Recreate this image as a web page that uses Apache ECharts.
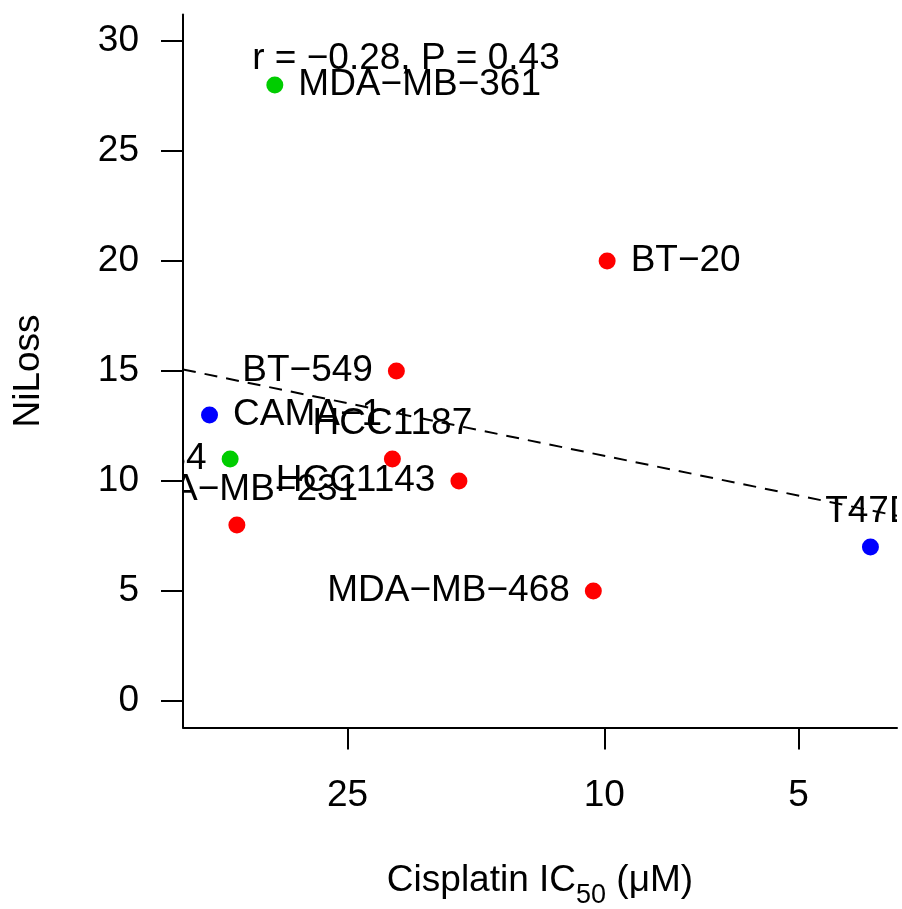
<!DOCTYPE html>
<html><head><meta charset="utf-8">
<script src="https://cdn.jsdelivr.net/npm/echarts@6/dist/echarts.min.js"></script>
<style>html,body{margin:0;padding:0;background:#fff;} #c{width:902px;height:909px;}</style>
</head><body><div id="c"></div>
<script>
// ---- data ----
const cellLines = ['MDA−MB−361','BT−20','BT−549','CAMA−1','MDA−MB−134','HCC1187','HCC1143','MDA−MB−231','MDA−MB−468','T47D'];
const cisplatinIC50 = [32.4, 9.9, 21.0, 40.9, 38.0, 21.3, 16.8, 37.1, 10.4, 3.87];
const niLoss = [28, 20, 15, 13, 11, 11, 10, 8, 5, 7];
const groups = ['green','red','red','blue','green','red','red','red','red','blue'];
const labelSides = ['right','right','left','right','left','top','left','top','left','top'];
const xTicks = [25, 10, 5];
const yTicks = [0, 5, 10, 15, 20, 25, 30];
const xRange = [3.52, 44.96];
const yRange = [-1.2, 31.2];
const fitX = [44.96, 3.52];
const fitY = [15.07, 8.42];
const annotation = 'r = −0.28, P = 0.43';

const groupColors = { green: '#00CD00', red: '#FF0000', blue: '#0000FF' };
const FONT = '"Liberation Sans", Arial, Helvetica, sans-serif';
const FS = 37;

const chart = echarts.init(document.getElementById('c'), null, { renderer: 'canvas' });

const pts = cellLines.map((name, i) => {
  const side = labelSides[i];
  return {
    name: name,
    value: [cisplatinIC50[i], niLoss[i]],
    itemStyle: { color: groupColors[groups[i]], opacity: 1 },
    label: { position: side, distance: side === 'top' ? 8 : 15 }
  };
});

const option = {
  animation: false,
  backgroundColor: '#fff',
  grid: { left: 183, right: 5, top: 14.6, bottom: 181.6, containLabel: false, outerBoundsMode: 'none' },
  xAxis: {
    type: 'log', logBase: 10, inverse: true, z: 50,
    min: xRange[0], max: xRange[1],
    axisLine: { show: true, onZero: false, lineStyle: { color: '#000', width: 2 } },
    axisTick: { show: true, length: 22, customValues: xTicks, lineStyle: { color: '#000', width: 2 } },
    axisLabel: { customValues: xTicks, margin: 50, fontSize: FS, color: '#000', fontFamily: FONT,
      formatter: v => String(Math.round(v)) },
    splitLine: { show: false }, minorTick: { show: false }, minorSplitLine: { show: false },
    name: '{a|Cisplatin IC}{b|50}{a| (μM)}',
    nameLocation: 'middle', nameGap: 135,
    nameTextStyle: {
      color: '#000', fontFamily: FONT, fontSize: FS,
      rich: {
        a: { fontSize: FS, fontFamily: FONT, color: '#000', lineHeight: 37 },
        b: { fontSize: 27, fontFamily: FONT, color: '#000', verticalAlign: 'top', lineHeight: 27, padding: [20, 0, 0, 0] }
      }
    }
  },
  yAxis: {
    type: 'value', min: yRange[0], max: yRange[1], z: 50,
    axisLine: { show: true, onZero: false, lineStyle: { color: '#000', width: 2 } },
    axisTick: { show: true, length: 22, customValues: yTicks, lineStyle: { color: '#000', width: 2 } },
    axisLabel: { customValues: yTicks, margin: 44, fontSize: FS, color: '#000', fontFamily: FONT },
    splitLine: { show: false },
    name: 'NiLoss', nameLocation: 'middle', nameGap: 136,
    nameTextStyle: { color: '#000', fontFamily: FONT, fontSize: FS }
  },
  graphic: [
    // white masks outside the plot region, so point labels are clipped like R's plot region
    { type: 'rect', z: 40, silent: true, shape: { x: 0, y: 0, width: 182, height: 909 }, style: { fill: '#fff' } },
    { type: 'rect', z: 40, silent: true, shape: { x: 897, y: 0, width: 5, height: 909 }, style: { fill: '#fff' } },
    {
      type: 'text', x: 406, y: 59, z: 45,
      style: { text: annotation, fontSize: FS, fontFamily: FONT, fill: '#000', align: 'center', verticalAlign: 'middle' }
    }
  ],
  series: [
    {
      type: 'line', data: fitX.map((x, i) => [x, fitY[i]]),
      symbol: 'none', silent: true, clip: true, z: 3,
      lineStyle: { color: '#000', width: 2, type: [13, 9] }
    },
    {
      type: 'scatter', data: pts, symbol: 'circle', symbolSize: 17, clip: true, z: 2,
      itemStyle: { opacity: 1 },
      label: { show: true, formatter: p => p.name, fontSize: FS, color: '#000', opacity: 1, fontFamily: FONT },
      emphasis: { disabled: true }
    }
  ]
};
chart.setOption(option);
</script>
</body></html>
